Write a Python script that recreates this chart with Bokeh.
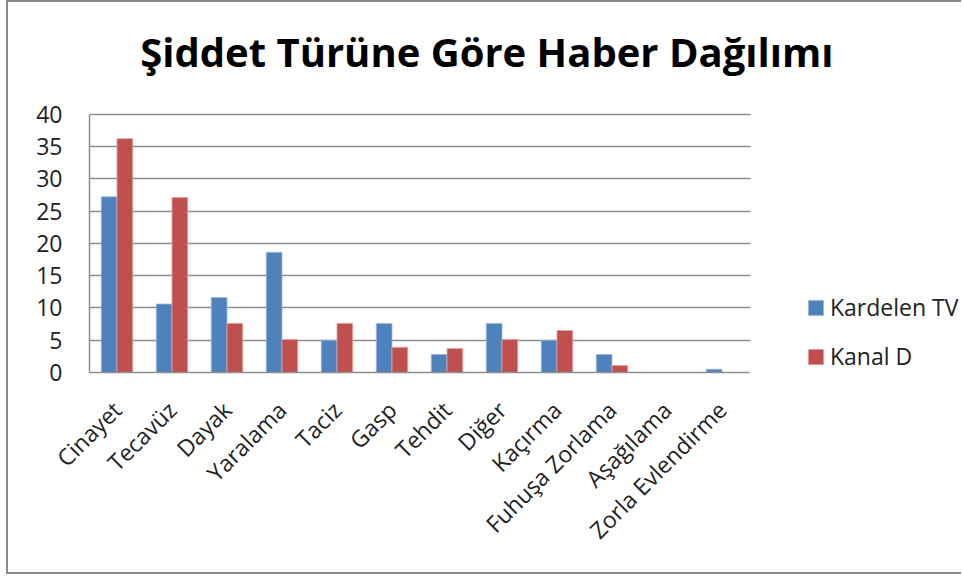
from bokeh.plotting import figure
from bokeh.models import (Legend, LegendItem, FixedTicker, Label,
                          ColumnDataSource, BoxAnnotation, Range1d)
from bokeh.embed import file_html
from bokeh.resources import INLINE
import math

categories = ["Cinayet", "Tecavüz", "Dayak", "Yaralama", "Taciz", "Gasp", "Tehdit",
              "Diğer", "Kaçırma", "Fuhuşa Zorlama", "Aşağılama", "Zorla Evlendirme"]
kardelen_tv = [27.2, 10.6, 11.6, 18.6, 5.0, 7.6, 2.8, 7.6, 5.0, 2.8, 0.0, 0.5]
kanal_d = [36.2, 27.1, 7.6, 5.1, 7.6, 3.9, 3.7, 5.1, 6.5, 1.1, 0.0, 0.0]
y_ticks = [0, 5, 10, 15, 20, 25, 30, 35, 40]
series_names = ["Kardelen TV", "Kanal D"]
title_text = "Şiddet Türüne Göre Haber Dağılımı"

FONT = "Open Sans"
BLUE = "#4F81BD"
RED = "#C0504D"
GRID = "#8e8e8e"

# canvas / layout geometry (pixels)
W, H = 955, 574
LEFT, BOTTOM = 81, 204
PX_PER_CAT = 55.0          # width of one category slot
PLOT_H = 258.4             # pixel height of the 0..40 value span
TITLE_CX, TITLE_BASE = 397.3, 321.0   # title centre x / baseline y (screen units)

n = len(categories)
idx = list(range(n))
bw = 0.286
y_max = y_ticks[-1]

src = ColumnDataSource(dict(
    xa=[i - bw / 2 for i in idx], xb=[i + bw / 2 for i in idx],
    a=kardelen_tv, b=kanal_d))

x_end = -0.5 + (W - LEFT) / PX_PER_CAT
y_end = y_max * (H - BOTTOM) / PLOT_H
p = figure(x_range=Range1d(-0.5, x_end), y_range=Range1d(0, y_end),
           width=W, height=H, output_backend="svg", toolbar_location=None,
           min_border_left=LEFT, min_border_right=0, min_border_top=0,
           min_border_bottom=BOTTOM)

r1 = p.vbar(x="xa", top="a", width=bw, source=src,
            fill_color=BLUE, line_color="#9fb9dc", line_width=0.8)
r2 = p.vbar(x="xb", top="b", width=bw, source=src,
            fill_color=RED, line_color="#e2a3a1", line_width=0.8)

p.yaxis.ticker = FixedTicker(ticks=y_ticks)
p.yaxis.bounds = (0, y_max)
p.yaxis.major_tick_line_color = None
p.yaxis.minor_tick_line_color = None
p.yaxis.axis_line_color = GRID
p.yaxis.axis_line_width = 1.5
p.yaxis.major_label_text_font = FONT
p.yaxis.major_label_text_font_size = "23px"
p.yaxis.major_label_text_color = "#222222"
p.yaxis.major_label_standoff = 21

p.xaxis.ticker = FixedTicker(ticks=idx)
p.xaxis.major_label_overrides = {i: c for i, c in zip(idx, categories)}
p.xaxis.bounds = (-0.5, n - 0.5)
p.xaxis.major_tick_line_color = None
p.xaxis.minor_tick_line_color = None
p.xaxis.axis_line_color = GRID
p.xaxis.axis_line_width = 1.5
p.xaxis.major_label_orientation = math.pi / 4
p.xaxis.major_label_text_font = FONT
p.xaxis.major_label_text_font_size = "23px"
p.xaxis.major_label_text_color = "#222222"
p.xaxis.major_label_standoff = 27

p.xgrid.grid_line_color = None
p.ygrid.grid_line_color = GRID
p.ygrid.grid_line_width = 1.5
p.ygrid.ticker = FixedTicker(ticks=y_ticks)
p.outline_line_color = None
p.background_fill_color = "white"
p.border_fill_color = "white"

# blank the area right of the plot area (legend zone)
p.add_layout(BoxAnnotation(left=n - 0.5 + 0.02, fill_color="white", fill_alpha=1.0,
                           line_color=None, level="underlay"))

title = Label(x=TITLE_CX, y=TITLE_BASE, x_units="screen", y_units="screen",
              text=title_text, text_font=FONT, text_font_size="40px",
              text_font_style="bold", text_color="#000000",
              text_align="center", text_baseline="alphabetic")
p.add_layout(title)

legend = Legend(items=[LegendItem(label=series_names[0], renderers=[r1]),
                       LegendItem(label=series_names[1], renderers=[r2])],
                location=(717, 0), orientation="vertical",
                glyph_width=19, glyph_height=19, label_standoff=5,
                label_height=20, spacing=17, padding=0, margin=0,
                label_text_font=FONT, label_text_font_size="23px",
                label_text_color="#222222", border_line_color=None,
                background_fill_alpha=0)
p.add_layout(legend, "center")

p.styles = {"margin-left": "6px", "border-left": "2px solid #8a8a8a",
            "border-top": "2px solid #8a8a8a", "border-bottom": "2px solid #8a8a8a"}

open("out.html", "w").write(file_html(p, INLINE))
